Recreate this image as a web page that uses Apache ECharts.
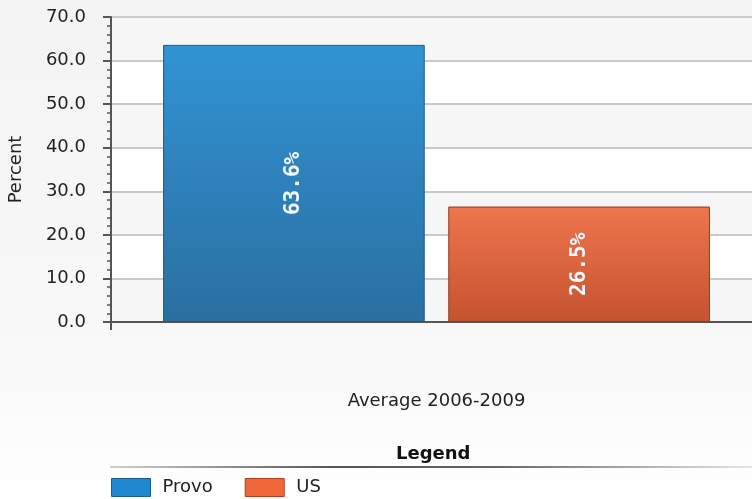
<!DOCTYPE html>
<html><head><meta charset="utf-8">
<script src="https://cdn.jsdelivr.net/npm/echarts@6/dist/echarts.min.js"></script>
<style>html,body{margin:0;padding:0;}#c{width:752px;height:499px;}</style>
</head><body><div id="c"></div>
<script>
const categories = ['Average 2006-2009'];
const seriesNames = ['Provo', 'US'];
const provoValues = [63.6];
const usValues = [26.5];
const yTicks = { min: 0, max: 70, interval: 10 };

const chart = echarts.init(document.getElementById('c'));
const font = 'DejaVu Sans, Verdana, sans-serif';
function grad(top, bottom) {
  return new echarts.graphic.LinearGradient(0, 0, 0, 1, [{offset: 0, color: top}, {offset: 1, color: bottom}]);
}
function labelCfg() {
  return {
    show: true, position: 'inside', rotate: 90, color: '#f4f8ff', fontWeight: 'bold',
    fontFamily: 'DejaVu Sans Mono, monospace', fontSize: 21,
    formatter: p => p.value.toFixed(1) + '%'
  };
}
chart.setOption({
  backgroundColor: new echarts.graphic.LinearGradient(0, 0, 0, 1, [{offset: 0, color: '#f3f3f3'}, {offset: 0.75, color: '#f9f9f9'}, {offset: 1, color: '#ffffff'}]),
  animation: false,
  title: {
    text: 'Legend', left: 396, top: 445, padding: 0,
    textStyle: { fontFamily: font, fontSize: 18, fontWeight: 'bold', color: '#111' }
  },
  graphic: [{
    type: 'rect', left: 110, top: 466, shape: { width: 642, height: 2 },
    style: { fill: new echarts.graphic.LinearGradient(0, 0, 1, 0, [{offset: 0, color: '#d0d0d0'}, {offset: 0.35, color: '#555'}, {offset: 0.6, color: '#666'}, {offset: 1, color: '#e6e6e6'}]) }
  }],
  grid: { left: 111, top: 17, width: 651, bottom: 177, outerBoundsMode: 'none', containLabel: false },
  legend: {
    left: 111, top: 478, itemWidth: 39, itemHeight: 18, itemGap: 32, padding: 0,
    icon: 'rect',
    textStyle: { fontFamily: font, fontSize: 18, color: '#222', padding: [0, 0, 0, 7] },
    data: [
      { name: 'Provo', itemStyle: { color: '#1f88d0', borderColor: '#1b5e8c', borderWidth: 1 } },
      { name: 'US', itemStyle: { color: '#f0683a', borderColor: '#b04020', borderWidth: 1 } }
    ]
  },
  xAxis: {
    type: 'category', data: categories,
    axisLine: { lineStyle: { color: '#555', width: 2 } },
    axisTick: { show: true, length: 8, lineStyle: { color: '#555', width: 2 } },
    axisLabel: { margin: 70, fontFamily: font, fontSize: 18, color: '#222' }
  },
  yAxis: {
    type: 'value', min: yTicks.min, max: yTicks.max, interval: yTicks.interval,
    name: 'Percent', nameLocation: 'middle', nameGap: 86,
    nameTextStyle: { fontFamily: font, fontSize: 18, color: '#222' },
    axisLine: { show: true, lineStyle: { color: '#555', width: 2 } },
    axisTick: { show: true, length: 8, lineStyle: { color: '#555', width: 2 } },
    minorTick: { show: true, splitNumber: 5, length: 4, lineStyle: { color: '#555', width: 1.5 } },
    axisLabel: { margin: 25, fontFamily: font, fontSize: 18, color: '#222', formatter: v => v.toFixed(1) },
    splitLine: { show: true, lineStyle: { color: '#c9c9c9', width: 2 } },
    splitArea: { show: true, areaStyle: { color: ['#f6f6f6', '#ffffff'] } }
  },
  series: [
    {
      name: seriesNames[0], type: 'bar', data: provoValues,
      barGap: '9%', barCategoryGap: '16%',
      itemStyle: { color: grad('#3193d4', '#2a6fa0'), borderColor: '#1d5a86', borderWidth: 1 },
      label: labelCfg()
    },
    {
      name: seriesNames[1], type: 'bar', data: usValues,
      itemStyle: { color: grad('#ee754c', '#c5532f'), borderColor: '#93381d', borderWidth: 1 },
      label: labelCfg()
    }
  ]
});
</script></body></html>
